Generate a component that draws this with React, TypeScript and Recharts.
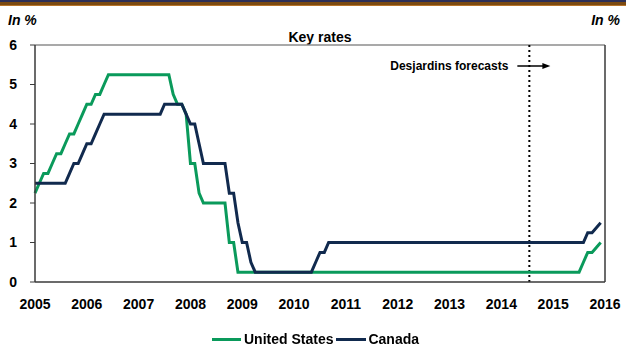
import React from 'react'
import { LineChart, Line, XAxis, YAxis, ReferenceLine } from 'recharts'

// monthly policy rates, Jan 2005 .. Dec 2015 (one row per year)
const usRate = [
  2.25, 2.5, 2.75, 2.75, 3.0, 3.25, 3.25, 3.5, 3.75, 3.75, 4.0, 4.25,
  4.5, 4.5, 4.75, 4.75, 5.0, 5.25, 5.25, 5.25, 5.25, 5.25, 5.25, 5.25,
  5.25, 5.25, 5.25, 5.25, 5.25, 5.25, 5.25, 5.25, 4.75, 4.5, 4.5, 4.25,
  3.0, 3.0, 2.25, 2.0, 2.0, 2.0, 2.0, 2.0, 2.0, 1.0, 1.0, 0.25,
  0.25, 0.25, 0.25, 0.25, 0.25, 0.25, 0.25, 0.25, 0.25, 0.25, 0.25, 0.25,
  0.25, 0.25, 0.25, 0.25, 0.25, 0.25, 0.25, 0.25, 0.25, 0.25, 0.25, 0.25,
  0.25, 0.25, 0.25, 0.25, 0.25, 0.25, 0.25, 0.25, 0.25, 0.25, 0.25, 0.25,
  0.25, 0.25, 0.25, 0.25, 0.25, 0.25, 0.25, 0.25, 0.25, 0.25, 0.25, 0.25,
  0.25, 0.25, 0.25, 0.25, 0.25, 0.25, 0.25, 0.25, 0.25, 0.25, 0.25, 0.25,
  0.25, 0.25, 0.25, 0.25, 0.25, 0.25, 0.25, 0.25, 0.25, 0.25, 0.25, 0.25,
  0.25, 0.25, 0.25, 0.25, 0.25, 0.25, 0.25, 0.5, 0.75, 0.75, 0.875, 1.0,
]

const canadaRate = [
  2.5, 2.5, 2.5, 2.5, 2.5, 2.5, 2.5, 2.5, 2.75, 3.0, 3.0, 3.25,
  3.5, 3.5, 3.75, 4.0, 4.25, 4.25, 4.25, 4.25, 4.25, 4.25, 4.25, 4.25,
  4.25, 4.25, 4.25, 4.25, 4.25, 4.25, 4.5, 4.5, 4.5, 4.5, 4.5, 4.25,
  4.0, 4.0, 3.5, 3.0, 3.0, 3.0, 3.0, 3.0, 3.0, 2.25, 2.25, 1.5,
  1.0, 1.0, 0.5, 0.25, 0.25, 0.25, 0.25, 0.25, 0.25, 0.25, 0.25, 0.25,
  0.25, 0.25, 0.25, 0.25, 0.25, 0.5, 0.75, 0.75, 1.0, 1.0, 1.0, 1.0,
  1.0, 1.0, 1.0, 1.0, 1.0, 1.0, 1.0, 1.0, 1.0, 1.0, 1.0, 1.0,
  1.0, 1.0, 1.0, 1.0, 1.0, 1.0, 1.0, 1.0, 1.0, 1.0, 1.0, 1.0,
  1.0, 1.0, 1.0, 1.0, 1.0, 1.0, 1.0, 1.0, 1.0, 1.0, 1.0, 1.0,
  1.0, 1.0, 1.0, 1.0, 1.0, 1.0, 1.0, 1.0, 1.0, 1.0, 1.0, 1.0,
  1.0, 1.0, 1.0, 1.0, 1.0, 1.0, 1.0, 1.0, 1.25, 1.25, 1.375, 1.5,
]

const startYear = 2005
const yearTicks = [2005, 2006, 2007, 2008, 2009, 2010, 2011, 2012, 2013, 2014, 2015, 2016]
const rateTicks = [0, 1, 2, 3, 4, 5, 6]
const forecastStart = 2014.54

const data = usRate.map((us, i) => ({
  t: startYear + i / 12,
  us,
  canada: canadaRate[i],
}))

const FONT = '"Liberation Sans", Arial, sans-serif'
const GREEN = '#0a9a5b'
const NAVY = '#112a4e'

const tickStyle = { fontFamily: FONT, fontSize: 14, fontWeight: 700, fill: '#000' }

function ForecastLabel(props: any) {
  const vb = props.viewBox || {}
  const x = vb.x
  const y = vb.y + 21
  return (
    <g>
      <text x={x - 21} y={y} textAnchor="end" dominantBaseline="central"
        style={{ fontFamily: FONT, fontSize: 12, fontWeight: 700, fill: '#000' }}>
        Desjardins forecasts
      </text>
      <line x1={x - 12} y1={y} x2={x + 15} y2={y} stroke="#000" strokeWidth={1.5} />
      <path d={`M${x + 21},${y} L${x + 13},${y - 3} L${x + 13},${y + 3} Z`} fill="#000" />
    </g>
  )
}

export default function App() {
  return (
    <div style={{ position: 'fixed', left: 0, top: 0, width: 626, height: 346, background: '#fff', fontFamily: FONT }}>
      <div style={{ position: 'absolute', left: 0, top: 0, width: 626, height: 2, background: '#2c2f57' }} />
      <div style={{ position: 'absolute', left: 0, top: 2, width: 626, height: 3, background: '#7b4a12' }} />
      <div style={{ position: 'absolute', left: 0, top: 5, width: 626, height: 1, background: '#b8742a' }} />

      <div style={{ position: 'absolute', left: 8, top: 12, fontSize: 14, fontWeight: 700, fontStyle: 'italic' }}>In %</div>
      <div style={{ position: 'absolute', right: 6, top: 12, fontSize: 14, fontWeight: 700, fontStyle: 'italic' }}>In %</div>
      <div style={{ position: 'absolute', left: 0, width: 640, top: 29, textAlign: 'center', fontSize: 14, fontWeight: 700 }}>Key rates</div>

      <LineChart width={626} height={346} data={data} margin={{ top: 45, right: 0, left: 0, bottom: 34 }}>
        <XAxis
          dataKey="t"
          type="number"
          domain={[2005, 2016]}
          ticks={yearTicks}
          allowDecimals={false}
          tickLine={false}
          tickSize={0}
          tickMargin={17}
          height={30}
          axisLine={{ stroke: '#3a3a3a', strokeWidth: 1.5 }}
          tick={tickStyle}
        />
        <YAxis
          yAxisId="l"
          orientation="left"
          domain={[0, 6]}
          ticks={rateTicks}
          width={35}
          tickSize={5}
          tickMargin={13}
          axisLine={{ stroke: '#3a3a3a', strokeWidth: 1.5 }}
          tickLine={{ stroke: '#3a3a3a' }}
          tick={tickStyle}
        />
        <YAxis
          yAxisId="r"
          orientation="right"
          domain={[0, 6]}
          ticks={rateTicks}
          width={21}
          tickSize={5}
          tickMargin={6}
          axisLine={{ stroke: '#3a3a3a', strokeWidth: 1.5 }}
          tickLine={{ stroke: '#3a3a3a' }}
          tick={tickStyle}
        />
        <ReferenceLine yAxisId="l" y={6} stroke="#8c8c8c" strokeWidth={1.5} />
        <ReferenceLine
          yAxisId="l"
          x={forecastStart}
          stroke="#000"
          strokeWidth={2}
          strokeDasharray="2 3"
          label={<ForecastLabel />}
        />
        <Line yAxisId="l" type="linear" dataKey="us" stroke={GREEN} strokeWidth={3} dot={false} isAnimationActive={false} />
        <Line yAxisId="l" type="linear" dataKey="canada" stroke={NAVY} strokeWidth={3} dot={false} isAnimationActive={false} />
      </LineChart>

      <div style={{ position: 'absolute', left: 212, top: 331, display: 'flex', alignItems: 'center', fontSize: 14, fontWeight: 700, whiteSpace: 'nowrap' }}>
        <span style={{ display: 'inline-block', width: 29, height: 3, background: GREEN, marginRight: 3 }} />
        <span>United States</span>
        <span style={{ display: 'inline-block', width: 30, height: 3, background: NAVY, marginLeft: 3, marginRight: 2 }} />
        <span>Canada</span>
      </div>
    </div>
  )
}
